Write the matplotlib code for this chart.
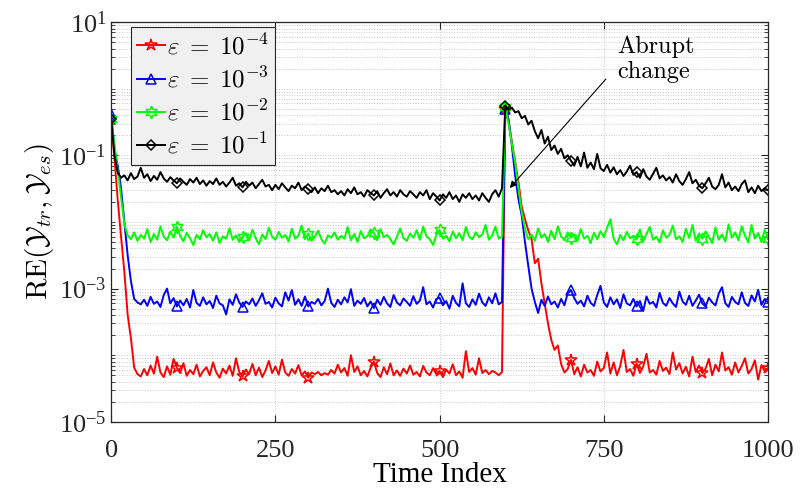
import matplotlib
matplotlib.use("Agg")
import matplotlib.pyplot as plt
import numpy as np
from matplotlib.ticker import FixedLocator, FixedFormatter

# time index, sampled every 5 steps
t = np.arange(0, 1001, 5)

red = [
    3.5e-1, 9e-2, 2.1e-2, 6e-3, 1.8e-3, 4.1e-4, 1.8e-4, 6.5e-5, 5.2e-5, 4.8e-5,
    6.2e-5, 5.0e-5, 7.0e-5, 5.3e-5, 9.5e-5, 5.5e-5, 4.7e-5, 6.8e-5, 5.1e-5, 8.8e-5,
    6.5e-5, 5.4e-5, 7.6e-5, 4.9e-5, 6.0e-5, 5.2e-5, 7.2e-5, 4.8e-5, 5.8e-5, 6.6e-5,
    5.0e-5, 7.8e-5, 5.5e-5, 4.6e-5, 6.3e-5, 5.3e-5, 7.0e-5, 4.9e-5, 9.0e-5, 5.6e-5,
    4.8e-5, 6.1e-5, 5.2e-5, 7.4e-5, 5.0e-5, 6.5e-5, 4.7e-5, 5.9e-5, 8.2e-5, 5.4e-5,
    6.8e-5, 5.1e-5, 8.6e-5, 5.5e-5, 4.9e-5, 6.2e-5, 5.3e-5, 7.1e-5, 5.0e-5, 5.7e-5,
    4.6e-5, 5.5e-5, 5.2e-5, 5.6e-5, 5.0e-5, 5.4e-5, 5.1e-5, 6.0e-5, 5.3e-5, 7.2e-5,
    5.5e-5, 6.4e-5, 4.9e-5, 1.0e-4, 5.6e-5, 6.8e-5, 5.0e-5, 5.8e-5, 4.8e-5, 6.5e-5,
    8.0e-5, 5.4e-5, 4.7e-5, 6.6e-5, 5.2e-5, 7.5e-5, 5.0e-5, 5.9e-5, 4.9e-5, 6.3e-5,
    5.3e-5, 7.0e-5, 5.1e-5, 5.6e-5, 4.8e-5, 6.9e-5, 5.5e-5, 5.0e-5, 6.4e-5, 5.2e-5,
    5.8e-5, 4.7e-5, 6.1e-5, 5.3e-5, 7.3e-5, 5.0e-5, 5.7e-5, 4.6e-5, 1.15e-4, 5.6e-5,
    6.4e-5, 5.1e-5, 9.0e-5, 5.4e-5, 6.0e-5, 5.2e-5, 5.8e-5, 5.5e-5, 5.0e-5, 5.6e-5,
    5.0e-1, 3.2e-1, 1.6e-1, 8.0e-2, 4.0e-2, 1.7e-2, 1.1e-2, 7.5e-3, 5.5e-3, 2.4e-3,
    2.8e-3, 1.2e-3, 6.0e-4, 3.0e-4, 1.7e-4, 1.2e-4, 1.4e-4, 7.4e-5, 5.5e-5, 6.2e-5,
    8.5e-5, 5.2e-5, 6.6e-5, 4.8e-5, 7.2e-5, 5.5e-5, 6.0e-5, 4.9e-5, 8.0e-5, 5.7e-5,
    6.4e-5, 1.1e-4, 5.3e-5, 7.8e-5, 5.0e-5, 6.9e-5, 1.2e-4, 5.6e-5, 6.2e-5, 4.9e-5,
    7.5e-5, 5.4e-5, 6.8e-5, 1.05e-4, 5.5e-5, 6.0e-5, 5.1e-5, 8.2e-5, 5.8e-5, 6.5e-5,
    5.2e-5, 1.1e-4, 6.1e-5, 7.6e-5, 5.3e-5, 6.7e-5, 4.8e-5, 9.5e-5, 5.6e-5, 7.0e-5,
    5.4e-5, 6.3e-5, 8.8e-5, 5.0e-5, 7.2e-5, 5.7e-5, 1.1e-4, 5.9e-5, 6.6e-5, 5.1e-5,
    7.8e-5, 5.5e-5, 6.9e-5, 9.0e-5, 5.3e-5, 6.2e-5, 8.4e-5, 4.3e-5, 7.1e-5, 5.8e-5,
    6.4e-5,
]

blue = [
    4.2e-1, 1.2e-1, 7.0e-2, 3.2e-2, 1.0e-2, 3.2e-3, 1.3e-3, 7.0e-4, 6.2e-4, 5.8e-4,
    6.8e-4, 5.5e-4, 7.5e-4, 5.9e-4, 6.4e-4, 5.3e-4, 8.0e-4, 1.0e-3, 6.0e-4, 7.2e-4,
    5.4e-4, 6.6e-4, 5.6e-4, 7.0e-4, 5.2e-4, 9.5e-4, 6.1e-4, 5.5e-4, 7.4e-4, 5.8e-4,
    6.5e-4, 5.1e-4, 7.8e-4, 6.0e-4, 5.6e-4, 4.1e-4, 6.9e-4, 5.7e-4, 8.2e-4, 6.2e-4,
    5.3e-4, 6.4e-4, 5.8e-4, 7.1e-4, 5.5e-4, 6.7e-4, 8.5e-4, 5.9e-4, 6.3e-4, 5.2e-4,
    7.3e-4, 6.0e-4, 5.4e-4, 8.8e-4, 6.6e-4, 9.5e-4, 5.7e-4, 6.9e-4, 5.5e-4, 7.6e-4,
    5.4e-4, 6.3e-4, 5.9e-4, 7.0e-4, 5.6e-4, 6.5e-4, 1.0e-3, 6.1e-4, 5.3e-4, 6.8e-4,
    5.8e-4, 7.4e-4, 6.2e-4, 9.8e-4, 5.5e-4, 6.6e-4, 5.9e-4, 7.2e-4, 5.4e-4, 6.4e-4,
    5.1e-4, 6.8e-4, 5.7e-4, 7.5e-4, 6.0e-4, 5.3e-4, 8.0e-4, 6.2e-4, 5.6e-4, 7.1e-4,
    6.3e-4, 5.5e-4, 7.7e-4, 5.9e-4, 6.6e-4, 1.05e-3, 5.8e-4, 6.4e-4, 5.2e-4, 7.0e-4,
    7.3e-4, 5.6e-4, 6.5e-4, 5.0e-4, 7.8e-4, 6.1e-4, 5.4e-4, 1.2e-3, 6.0e-4, 5.3e-4,
    6.9e-4, 5.7e-4, 8.4e-4, 6.2e-4, 5.5e-4, 7.4e-4, 6.0e-4, 8.5e-4, 5.8e-4, 6.3e-4,
    5.0e-1, 3.5e-1, 1.4e-1, 5.0e-2, 2.2e-2, 1.25e-2, 5.0e-3, 2.2e-3, 1.0e-3, 6.3e-4,
    4.3e-4, 6.8e-4, 5.5e-4, 7.6e-4, 5.8e-4, 6.4e-4, 5.2e-4, 7.0e-4, 5.6e-4, 8.5e-4,
    9.5e-4, 7.2e-4, 5.9e-4, 6.6e-4, 5.4e-4, 7.8e-4, 6.1e-4, 5.5e-4, 8.0e-4, 1.1e-3,
    6.2e-4, 5.3e-4, 7.4e-4, 5.8e-4, 6.9e-4, 5.1e-4, 8.2e-4, 6.0e-4, 5.6e-4, 7.0e-4,
    5.4e-4, 6.5e-4, 4.6e-4, 7.6e-4, 5.9e-4, 6.3e-4, 5.2e-4, 8.6e-4, 6.1e-4, 5.5e-4,
    7.2e-4, 6.0e-4, 5.3e-4, 9.0e-4, 6.4e-4, 5.7e-4, 7.8e-4, 5.5e-4, 6.6e-4, 8.1e-4,
    6.0e-4, 5.4e-4, 7.3e-4, 6.2e-4, 5.6e-4, 8.4e-4, 1.05e-3, 6.0e-4, 5.3e-4, 7.5e-4,
    6.3e-4, 5.8e-4, 8.8e-4, 6.1e-4, 5.5e-4, 7.9e-4, 6.4e-4, 9.6e-4, 5.7e-4, 7.0e-4,
    6.2e-4,
]

green = [
    3.5e-1, 1.45e-1, 5.8e-2, 2.3e-2, 9.3e-3, 6.3e-3, 5.5e-3, 7.0e-3, 5.2e-3, 6.4e-3,
    5.6e-3, 7.8e-3, 5.0e-3, 6.6e-3, 5.4e-3, 8.6e-3, 6.0e-3, 5.3e-3, 7.2e-3, 5.8e-3,
    8.5e-3, 6.2e-3, 5.1e-3, 6.9e-3, 5.7e-3, 4.5e-3, 6.4e-3, 5.5e-3, 7.5e-3, 5.9e-3,
    6.6e-3, 5.2e-3, 7.0e-3, 4.8e-3, 6.1e-3, 5.6e-3, 8.0e-3, 5.4e-3, 6.3e-3, 5.0e-3,
    5.9e-3, 6.8e-3, 5.3e-3, 7.6e-3, 5.7e-3, 4.6e-3, 6.5e-3, 5.5e-3, 8.2e-3, 6.0e-3,
    5.4e-3, 7.1e-3, 5.8e-3, 6.4e-3, 5.1e-3, 7.9e-3, 5.6e-3, 6.2e-3, 8.8e-3, 5.5e-3,
    6.7e-3, 5.2e-3, 6.0e-3, 7.4e-3, 5.5e-3, 4.7e-3, 6.3e-3, 5.8e-3, 7.0e-3, 5.4e-3,
    6.2e-3, 5.6e-3, 8.4e-3, 5.3e-3, 6.6e-3, 5.0e-3, 7.3e-3, 5.7e-3, 6.1e-3, 7.7e-3,
    6.8e-3, 5.3e-3, 7.8e-3, 5.9e-3, 6.4e-3, 5.5e-3, 4.6e-3, 6.0e-3, 8.0e-3, 5.7e-3,
    5.2e-3, 6.7e-3, 5.8e-3, 7.5e-3, 5.4e-3, 8.5e-3, 6.1e-3, 5.5e-3, 4.5e-3, 6.4e-3,
    7.6e-3, 5.6e-3, 6.2e-3, 5.1e-3, 7.2e-3, 5.7e-3, 6.8e-3, 5.3e-3, 8.4e-3, 6.0e-3,
    5.5e-3, 7.0e-3, 5.9e-3, 6.5e-3, 9.0e-3, 5.4e-3, 6.3e-3, 8.5e-3, 5.6e-3, 6.0e-3,
    5.3e-1, 3.0e-1, 1.5e-1, 7.8e-2, 3.2e-2, 1.4e-2, 8.0e-3, 5.5e-3, 6.5e-3, 5.2e-3,
    8.0e-3, 5.8e-3, 6.6e-3, 5.0e-3, 7.4e-3, 5.5e-3, 8.6e-3, 6.1e-3, 5.3e-3, 7.0e-3,
    5.8e-3, 6.5e-3, 5.2e-3, 7.8e-3, 5.6e-3, 6.2e-3, 4.8e-3, 6.9e-3, 5.5e-3, 7.3e-3,
    5.9e-3, 8.2e-3, 1.1e-2, 5.6e-3, 4.6e-3, 6.4e-3, 5.3e-3, 7.1e-3, 5.7e-3, 6.2e-3,
    5.5e-3, 7.7e-3, 5.1e-3, 6.6e-3, 8.4e-3, 5.4e-3, 6.0e-3, 4.9e-3, 7.5e-3, 5.8e-3,
    6.4e-3, 8.8e-3, 5.5e-3, 6.1e-3, 5.0e-3, 7.9e-3, 5.7e-3, 9.0e-3, 5.2e-3, 6.7e-3,
    5.6e-3, 7.2e-3, 6.0e-3, 4.8e-3, 8.3e-3, 5.4e-3, 6.5e-3, 5.1e-3, 9.2e-3, 5.8e-3,
    7.0e-3, 5.3e-3, 8.6e-3, 6.2e-3, 4.9e-3, 9.0e-3, 5.6e-3, 6.8e-3, 5.0e-3, 7.6e-3,
    5.5e-3,
]

black = [
    3.5e-1, 1.0e-1, 5.5e-2, 4.6e-2, 5.0e-2, 4.2e-2, 5.4e-2, 4.4e-2, 4.8e-2, 6.5e-2,
    4.6e-2, 5.2e-2, 4.1e-2, 4.9e-2, 4.3e-2, 5.6e-2, 4.5e-2, 4.0e-2, 4.7e-2, 4.2e-2,
    3.8e-2, 4.5e-2, 4.0e-2, 3.6e-2, 4.4e-2, 3.9e-2, 4.6e-2, 3.7e-2, 4.2e-2, 3.5e-2,
    4.1e-2, 3.7e-2, 4.5e-2, 3.6e-2, 4.0e-2, 3.4e-2, 3.9e-2, 4.6e-2, 3.5e-2, 3.8e-2,
    3.3e-2, 4.0e-2, 3.5e-2, 3.9e-2, 3.2e-2, 3.7e-2, 4.3e-2, 3.4e-2, 3.6e-2, 3.0e-2,
    3.6e-2, 3.1e-2, 3.8e-2, 3.3e-2, 2.9e-2, 3.5e-2, 3.2e-2, 3.9e-2, 3.0e-2, 3.4e-2,
    3.1e-2, 2.8e-2, 3.3e-2, 2.7e-2, 3.2e-2, 2.9e-2, 3.5e-2, 2.8e-2, 3.0e-2, 2.6e-2,
    2.9e-2, 2.5e-2, 3.1e-2, 2.7e-2, 3.3e-2, 2.6e-2, 2.8e-2, 2.4e-2, 3.0e-2, 2.7e-2,
    2.5e-2, 2.9e-2, 2.3e-2, 2.7e-2, 3.1e-2, 2.5e-2, 2.8e-2, 2.4e-2, 3.0e-2, 2.6e-2,
    2.4e-2, 2.9e-2, 2.6e-2, 2.3e-2, 2.8e-2, 2.5e-2, 3.0e-2, 2.2e-2, 2.7e-2, 2.4e-2,
    2.1e-2, 2.6e-2, 2.3e-2, 2.8e-2, 2.2e-2, 2.5e-2, 2.0e-2, 2.6e-2, 2.3e-2, 2.7e-2,
    2.2e-2, 2.5e-2, 2.1e-2, 2.7e-2, 2.3e-2, 2.0e-2, 2.6e-2, 3.0e-2, 2.4e-2, 3.2e-2,
    5.5e-1, 4.8e-1, 5.2e-1, 4.4e-1, 4.6e-1, 3.6e-1, 3.9e-1, 2.9e-1, 3.3e-1, 2.3e-1,
    1.8e-1, 2.4e-1, 1.5e-1, 1.9e-1, 1.2e-1, 1.4e-1, 1.05e-1, 1.25e-1, 9.0e-2, 1.0e-1,
    8.3e-2, 7.0e-2, 9.5e-2, 6.8e-2, 1.1e-1, 6.5e-2, 7.8e-2, 6.2e-2, 1.05e-1, 6.4e-2,
    5.8e-2, 7.2e-2, 5.5e-2, 6.6e-2, 5.2e-2, 6.0e-2, 4.9e-2, 5.7e-2, 7.0e-2, 5.1e-2,
    5.6e-2, 4.6e-2, 6.2e-2, 4.8e-2, 4.3e-2, 5.3e-2, 6.5e-2, 4.5e-2, 5.0e-2, 4.2e-2,
    4.7e-2, 3.9e-2, 5.2e-2, 4.1e-2, 3.6e-2, 4.4e-2, 5.6e-2, 3.8e-2, 4.3e-2, 3.5e-2,
    3.2e-2, 3.8e-2, 4.6e-2, 3.4e-2, 3.1e-2, 3.6e-2, 5.2e-2, 3.3e-2, 3.9e-2, 3.0e-2,
    3.4e-2, 2.9e-2, 3.7e-2, 4.2e-2, 2.8e-2, 3.3e-2, 2.7e-2, 3.5e-2, 2.9e-2, 3.2e-2,
    3.0e-2,
]

labels = [r'$\varepsilon\;=\;10^{-4}$', r'$\varepsilon\;=\;10^{-3}$',
          r'$\varepsilon\;=\;10^{-2}$', r'$\varepsilon\;=\;10^{-1}$']
xticks = [0, 250, 500, 750, 1000]
yticks = [1e-5, 1e-3, 1e-1, 1e1]
yticklabels = [r'$\mathregular{10^{-5}}$', r'$\mathregular{10^{-3}}$',
               r'$\mathregular{10^{-1}}$', r'$\mathregular{10^{1}}$']

plt.rcParams['font.family'] = 'serif'
plt.rcParams['font.serif'] = ['Liberation Serif', 'DejaVu Serif']
plt.rcParams['mathtext.fontset'] = 'cm'

fig = plt.figure(figsize=(8, 5.01), dpi=100)
ax = fig.add_axes([0.139, 0.158, 0.821, 0.798])

star6 = (6, 1, 0)
styles = [('r', '*', 9), ('b', '^', 7.5), ('#00ff00', star6, 9), ('k', 'D', 5.5)]
for y, lab, (c, m, ms) in zip([red, blue, green, black], labels, styles):
    ax.plot(t, y, color=c, lw=1.4, marker=m, ms=ms, mfc='none', mec=c,
            mew=1.1, markevery=20, label=lab)

ax.set_yscale('log')
ax.set_xlim(0, 1000)
ax.set_ylim(1e-5, 1e1)
ax.set_xticks(xticks)
ax.set_xticklabels([str(v) for v in xticks])
ax.yaxis.set_major_locator(FixedLocator(yticks))
ax.yaxis.set_major_formatter(FixedFormatter(yticklabels))
minor = [m * 10.0 ** e for e in range(-5, 1) for m in range(1, 10)
         if not (m == 1 and e % 2 == 1)]
ax.yaxis.set_minor_locator(FixedLocator(minor))
ax.yaxis.set_minor_formatter(FixedFormatter([''] * len(minor)))

ax.tick_params(which='both', direction='in', top=True, right=True,
               colors='#262626', labelsize=19)
ax.tick_params(axis='x', pad=13)
ax.tick_params(which='major', length=5, width=0.8)
ax.tick_params(which='minor', length=3, width=0.6)
for s in ax.spines.values():
    s.set_color('#262626')
    s.set_linewidth(0.9)

ax.grid(True, which='both', ls=':', color='#c8c8c8', lw=0.7)
ax.set_axisbelow(True)

ax.set_xlabel('Time Index', fontsize=21, labelpad=0)
ax.set_ylabel(r'$\mathrm{RE}(\mathcal{Y}_{tr},\mathcal{Y}_{es})$', fontsize=21,
              labelpad=2)

leg = ax.legend(loc='upper left', bbox_to_anchor=(0.03, 0.987), fontsize=18,
                fancybox=False, framealpha=1, edgecolor='#262626',
                borderpad=0.25, labelspacing=0.3, handlelength=1.1,
                handletextpad=0.1, borderaxespad=0)
leg.get_frame().set_facecolor('#f0f0f0')
leg.get_frame().set_linewidth(0.8)

ax.annotate('', xy=(604, 0.03), xytext=(756, 1.5),
            arrowprops=dict(arrowstyle='-|>', color='k', lw=0.8,
                            mutation_scale=10))
ax.text(770, 6.3, 'Abrupt\nchange', fontsize=17.5, family='cmr10',
        va='top', ha='left', linespacing=1.15)

fig.savefig('out.png', dpi=100)
